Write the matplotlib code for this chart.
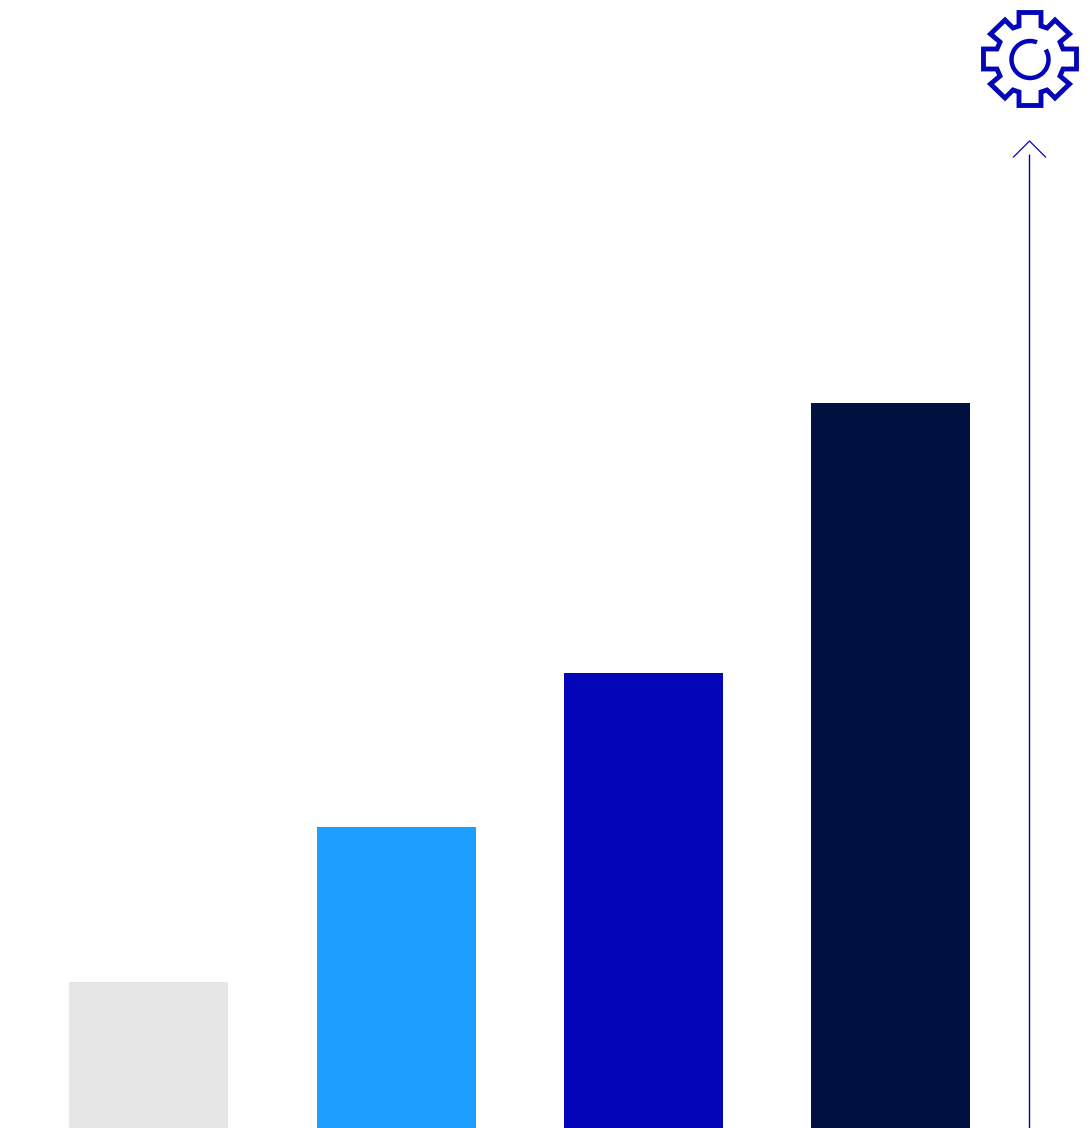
import numpy as np
import matplotlib
matplotlib.use("Agg")
import matplotlib.pyplot as plt
from matplotlib.patches import Arc, Polygon

categories = ["A", "B", "C", "D"]
values = [146, 301, 455, 725]
colors = ["#E6E6E6", "#1E9EFF", "#0404B8", "#001040"]
icon_color = "#0404B8"

W, H = 1090, 1128
fig = plt.figure(figsize=(W / 100, H / 100), dpi=100, facecolor="white")

ax = fig.add_axes([0, 0, 1, 1])
x = np.arange(len(categories))
ax.bar(x, values, width=0.643, color=colors, linewidth=0)
ax.set_xlim(-0.6016, 3.8054)
ax.set_ylim(0, H)
ax.axis("off")

ov = fig.add_axes([0, 0, 1, 1], facecolor="none")
ov.set_xlim(0, W)
ov.set_ylim(H, 0)
ov.axis("off")

# axis arrow
ov.plot([1029.0, 1029.0], [154, H], color=icon_color, lw=1.0, solid_capstyle="butt")
ov.plot([1013.5, 1029.5, 1045.5], [157, 141, 157], color=icon_color, lw=0.9)

# gear icon
gear = [(1019, 12.5), (1041, 12.5), (1041, 26), (1047, 28), (1055, 20), (1069.5, 34),
        (1060, 42), (1063, 49), (1076.5, 49), (1076.5, 69), (1063, 69), (1060, 76),
        (1069.5, 84), (1055, 98), (1047, 90), (1041, 92), (1041, 105.5), (1019, 105.5),
        (1019, 92), (1013, 90), (1005, 98), (990.5, 84), (1000, 76), (997, 69),
        (983.5, 69), (983.5, 49), (997, 49), (1000, 42), (990.5, 34), (1005, 20),
        (1013, 28), (1019, 26)]
ov.add_patch(Polygon(gear, closed=True, fill=False, edgecolor=icon_color, lw=3.5, joinstyle="miter"))
# y axis inverted: Arc angles run clockwise on screen
ov.add_patch(Arc((1030, 59.5), 37, 37, theta1=-32, theta2=292, color=icon_color, lw=3.2))

fig.savefig("out.png", dpi=100, facecolor="white")
